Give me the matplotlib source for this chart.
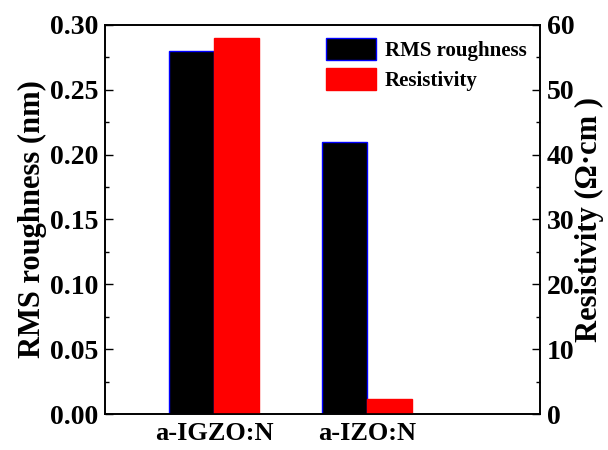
import matplotlib.pyplot as plt
import numpy as np

# Sample names and measured values
samples = ["a-IGZO:N", "a-IZO:N"]
rms_roughness = [0.28, 0.21]      # nm
resistivity = [58.0, 2.3]         # Ohm*cm

plt.rcParams["font.family"] = ["Liberation Serif", "DejaVu Serif"]
plt.rcParams["font.weight"] = "bold"
plt.rcParams["axes.labelweight"] = "bold"

fig, ax = plt.subplots(figsize=(6.08, 4.5), dpi=100)
fig.subplots_adjust(left=0.173, right=0.888, top=0.945, bottom=0.08)

x = np.arange(1, len(samples) + 1)
w = 0.294

b1 = ax.bar(x - w / 2, rms_roughness, w, color="black", edgecolor="blue",
            linewidth=1.0, label="RMS roughness")
ax.set_ylim(0, 0.30)
ax.set_xlim(0.288, 3.13)
ax.set_yticks(np.arange(0, 0.31, 0.05))
ax.set_yticks(np.arange(0.025, 0.30, 0.05), minor=True)
ax.set_ylabel("RMS roughness (nm)", fontsize=22, labelpad=2)
ax.set_xticks(x)
ax.set_xticklabels(samples, fontsize=19)
ax.tick_params(axis="x", length=0, pad=6)
ax.tick_params(axis="y", which="major", direction="in", length=6, width=1,
               labelsize=20, pad=5)
ax.tick_params(axis="y", which="minor", direction="in", length=3, width=1)
ax.yaxis.set_major_formatter(plt.FormatStrFormatter("%.2f"))

ax2 = ax.twinx()
b2 = ax2.bar(x + w / 2, resistivity, w, color="red", edgecolor="red",
             linewidth=1.0, label="Resistivity")
ax2.set_ylim(0, 60)
ax2.set_yticks(np.arange(0, 61, 10))
ax2.set_yticks(np.arange(5, 60, 10), minor=True)
ax2.set_ylabel("Resistivity (\u03a9\u00b7cm )", fontsize=22, labelpad=0)
ax2.tick_params(axis="y", which="major", direction="in", length=6, width=1,
                labelsize=20, pad=5)
ax2.tick_params(axis="y", which="minor", direction="in", length=3, width=1)

for a in (ax, ax2):
    for s in a.spines.values():
        s.set_linewidth(1.2)

ax2.legend([b1, b2], ["RMS roughness", "Resistivity"], loc="upper right",
           frameon=False, fontsize=15, handlelength=2.4, handleheight=1.2,
           handletextpad=0.4, labelspacing=0.35, borderaxespad=0.25)

plt.savefig("out.png", dpi=100)
